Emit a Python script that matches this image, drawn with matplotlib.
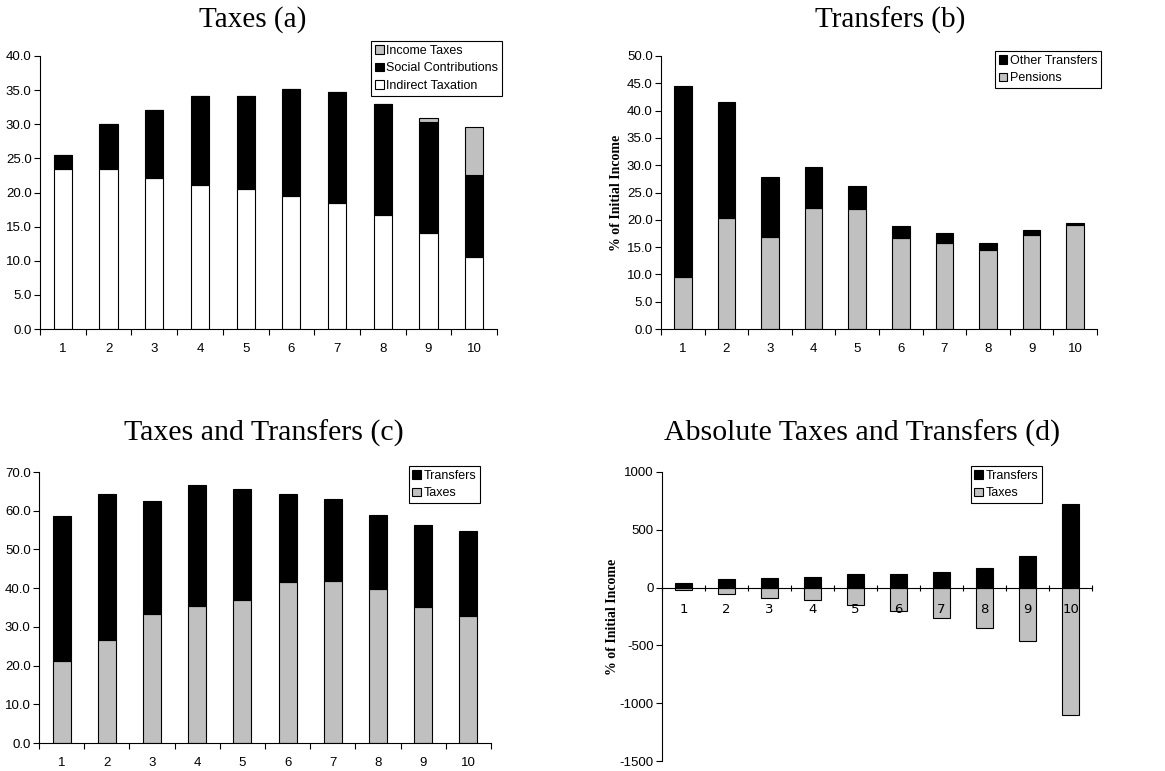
import numpy as np
import matplotlib.pyplot as plt
from matplotlib.ticker import FixedLocator, FormatStrFormatter, NullFormatter

deciles = np.arange(1, 11)
decile_labels = [str(d) for d in deciles]

# (a) taxes, % of initial income
indirect_tax = [23.4, 23.4, 22.1, 21.1, 20.5, 19.5, 18.4, 16.7, 14.1, 10.6]
social_contrib = [2.1, 6.6, 10.0, 13.0, 13.7, 15.6, 16.3, 16.3, 16.2, 12.0]
income_tax = [0.0, 0.0, 0.0, 0.0, 0.0, 0.0, 0.0, 0.0, 0.6, 7.0]

# (b) transfers, % of initial income
pensions = [9.5, 20.4, 16.9, 22.1, 21.9, 16.6, 15.8, 14.4, 17.2, 19.1]
other_transfers = [35.0, 21.2, 10.9, 7.5, 4.3, 2.3, 1.7, 1.3, 0.9, 0.3]

# (c) taxes and transfers, % of initial income
taxes_pct = [21.1, 26.6, 33.3, 35.4, 36.9, 41.6, 41.8, 39.7, 35.2, 32.8]
transfers_pct = [37.6, 37.6, 29.2, 31.2, 28.6, 22.7, 21.3, 19.2, 21.0, 21.9]

# (d) absolute taxes and transfers
transfers_abs = [43, 78, 80, 95, 115, 115, 138, 172, 276, 727]
taxes_abs = [-23, -52, -86, -103, -147, -201, -261, -348, -466, -1101]

GREY = '#c0c0c0'
W, H = 1165, 771
fig = plt.figure(figsize=(W / 100, H / 100), dpi=100)
serif = 'Liberation Serif'
sans = 'Liberation Sans'


def px_axes(left, right, top, bottom):
    ax = fig.add_axes([left / W, 1 - bottom / H, (right - left) / W, (bottom - top) / H])
    ax.width_px = right - left
    return ax


def style(ax, ylim, yticks, fmt, label_off, zero_axis=False):
    ax.set_xlim(0.5, 10.5)
    ax.set_ylim(*ylim)
    ax.spines['top'].set_visible(False)
    ax.spines['right'].set_visible(False)
    ax.set_yticks(yticks)
    ax.yaxis.set_major_formatter(FormatStrFormatter(fmt))
    ax.xaxis.set_major_locator(FixedLocator(np.arange(0.5, 11, 1)))
    ax.xaxis.set_major_formatter(NullFormatter())
    ax.xaxis.set_minor_locator(FixedLocator(deciles))
    ax.set_xticklabels(decile_labels, minor=True)
    ax.tick_params(axis='x', which='minor', length=0, labelsize=9.5, pad=10 if not zero_axis else 11)
    ax.tick_params(axis='x', which='major', length=4 if not zero_axis else 5,
                   direction='out' if not zero_axis else 'inout', width=0.8)
    ax.tick_params(axis='y', length=4, width=0.8, labelsize=9.5, pad=2)
    for lbl in ax.get_xticklabels(minor=True) + ax.get_yticklabels():
        lbl.set_fontfamily(sans)
    if zero_axis:
        ax.spines['bottom'].set_position(('data', 0))
    ax.set_ylabel('% of Initial Income', fontfamily=serif, fontweight='bold', fontsize=10)
    ax.yaxis.set_label_coords(-label_off / ax.width_px, 0.5)


def legend(ax, handles, labels, x, y):
    leg = ax.legend(handles, labels, loc='upper right', bbox_to_anchor=(x / W, 1 - y / H),
                    bbox_transform=fig.transFigure, fancybox=False, framealpha=1,
                    edgecolor='black', prop={'family': sans, 'size': 9},
                    handlelength=0.7, handleheight=0.7, handletextpad=0.2,
                    borderpad=0.3, labelspacing=0.45, borderaxespad=0)
    leg.get_frame().set_linewidth(0.8)


bw = 0.4
kw = dict(width=bw, edgecolor='black', linewidth=0.8)

# Panel (a)
ax = px_axes(40, 497, 56, 329)
b1 = ax.bar(deciles, indirect_tax, color='white', **kw)
b2 = ax.bar(deciles, social_contrib, bottom=indirect_tax, color='black', **kw)
base = np.array(indirect_tax) + np.array(social_contrib)
b3 = ax.bar(deciles, income_tax, bottom=base, color=GREY, **kw)
style(ax, (0, 40), np.arange(0, 41, 5), '%.1f', 36)
legend(ax, [b3, b2, b1], ['Income Taxes', 'Social Contributions', 'Indirect Taxation'], 502, 41)
fig.text(253 / W, 1 - 20 / H, 'Taxes (a)', ha='center', va='center', fontfamily=serif, fontsize=21)

# Panel (b)
ax = px_axes(661, 1097, 56, 329)
p1 = ax.bar(deciles, pensions, color=GREY, **kw)
p2 = ax.bar(deciles, other_transfers, bottom=pensions, color='black', **kw)
style(ax, (0, 50), np.arange(0, 51, 5), '%.1f', 38)
legend(ax, [p2, p1], ['Other Transfers', 'Pensions'], 1101, 51)
fig.text(890 / W, 1 - 20 / H, 'Transfers (b)', ha='center', va='center', fontfamily=serif, fontsize=21)

# Panel (c)
ax = px_axes(39, 491, 472, 743)
c1 = ax.bar(deciles, taxes_pct, color=GREY, **kw)
c2 = ax.bar(deciles, transfers_pct, bottom=taxes_pct, color='black', **kw)
style(ax, (0, 70), np.arange(0, 71, 10), '%.1f', 36)
legend(ax, [c2, c1], ['Transfers', 'Taxes'], 480, 466)
fig.text(264 / W, 1 - 433 / H, 'Taxes and Transfers (c)', ha='center', va='center',
         fontfamily=serif, fontsize=21.5)

# Panel (d)
ax = px_axes(662, 1092, 472, 761)
d1 = ax.bar(deciles, transfers_abs, color='black', **kw)
d2 = ax.bar(deciles, taxes_abs, color=GREY, **kw)
style(ax, (-1500, 1000), np.arange(-1500, 1001, 500), '%d', 43, zero_axis=True)
legend(ax, [d1, d2], ['Transfers', 'Taxes'], 1042, 466)
fig.text(862 / W, 1 - 433 / H, 'Absolute Taxes and Transfers (d)', ha='center', va='center',
         fontfamily=serif, fontsize=21.5)

fig.savefig('out.png', dpi=100)
